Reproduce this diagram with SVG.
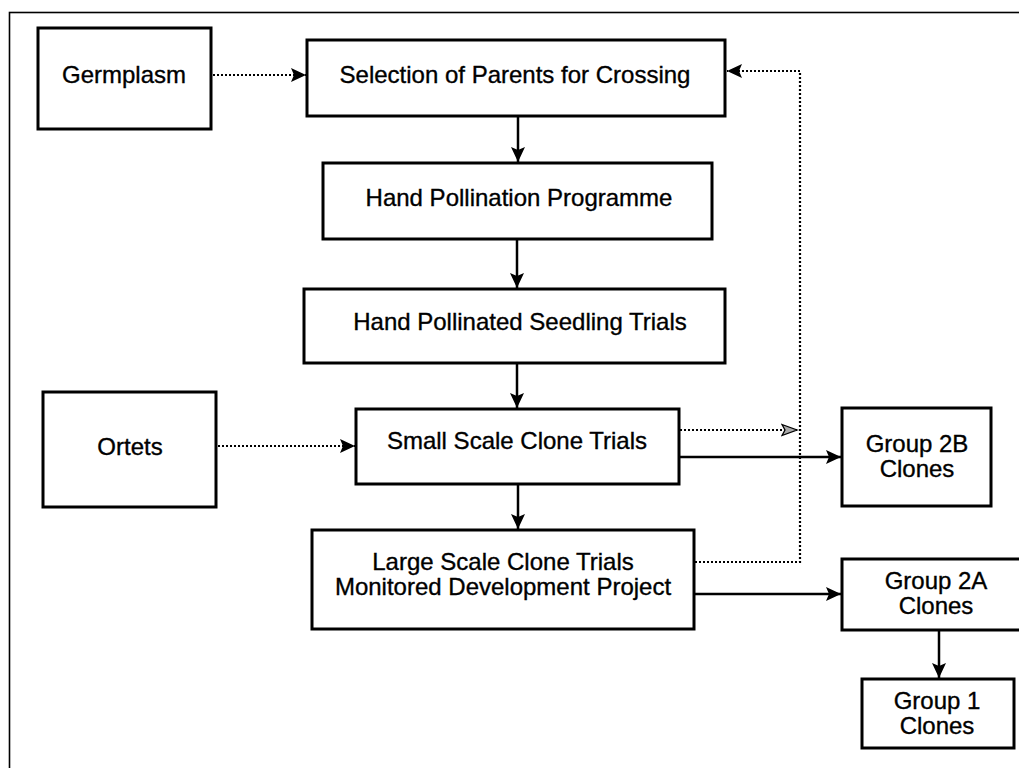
<svg xmlns="http://www.w3.org/2000/svg" width="1019" height="768" viewBox="0 0 1019 768">
<style>
.box{fill:#fff;stroke:#000;stroke-width:3}
.t{font-family:"Liberation Sans",Arial,sans-serif;font-size:24px;fill:#000;stroke:#000;stroke-width:0.35;text-anchor:middle}
.solid{fill:none;stroke:#000;stroke-width:2.5}
.dot{fill:none;stroke:#000;stroke-width:2.2;stroke-dasharray:2 2}
</style>
<defs>
<marker id="ah" markerUnits="userSpaceOnUse" markerWidth="16" markerHeight="14" refX="15" refY="7" orient="auto">
<path d="M0,0 L15,7 L0,14 L3,7 z" fill="#000"/>
</marker>
<marker id="ahOpen" markerUnits="userSpaceOnUse" markerWidth="18" markerHeight="14" refX="16" refY="7" orient="auto">
<path d="M1,1.5 L16,7 L1,12.5 L4,7 z" fill="#aaa" stroke="#000" stroke-width="1.3"/>
</marker>
</defs>
<rect width="1019" height="768" fill="#fff"/>
<rect x="9.5" y="12.5" width="1100" height="1000" fill="none" stroke="#000" stroke-width="1.6"/>
<g id="connectors">
<line class="dot" x1="213" y1="75" x2="306" y2="75" marker-end="url(#ah)"/>
<polyline class="dot" points="695,562 800,562 800,71 727,71" marker-end="url(#ah)"/>
<line class="solid" x1="518" y1="116" x2="518" y2="162" marker-end="url(#ah)"/>
<line class="solid" x1="517" y1="239" x2="517" y2="288" marker-end="url(#ah)"/>
<line class="solid" x1="517" y1="363" x2="517" y2="408" marker-end="url(#ah)"/>
<line class="dot" x1="218" y1="446" x2="355" y2="446" marker-end="url(#ah)"/>
<line class="dot" x1="680" y1="430" x2="797" y2="430" marker-end="url(#ahOpen)"/>
<line class="solid" x1="680" y1="457" x2="841" y2="457" marker-end="url(#ah)"/>
<line class="solid" x1="518" y1="484" x2="518" y2="529" marker-end="url(#ah)"/>
<line class="solid" x1="695" y1="594" x2="841" y2="594" marker-end="url(#ah)"/>
<line class="solid" x1="939" y1="630" x2="939" y2="678" marker-end="url(#ah)"/>
</g>
<g id="germplasm">
<rect class="box" x="38" y="28" width="173" height="101"/>
<text class="t" x="124" y="83">Germplasm</text>
</g>
<g id="selection">
<rect class="box" x="307" y="40" width="418" height="76"/>
<text class="t" x="515" y="83">Selection of Parents for Crossing</text>
</g>
<g id="handpollination">
<rect class="box" x="323" y="163" width="389" height="76"/>
<text class="t" x="519" y="206">Hand Pollination Programme</text>
</g>
<g id="seedling">
<rect class="box" x="304" y="289" width="421" height="74"/>
<text class="t" x="520" y="330">Hand Pollinated Seedling Trials</text>
</g>
<g id="ortets">
<rect class="box" x="43" y="392" width="173" height="115"/>
<text class="t" x="130" y="455">Ortets</text>
</g>
<g id="smallscale">
<rect class="box" x="356" y="409" width="323" height="75"/>
<text class="t" x="517" y="449">Small Scale Clone Trials</text>
</g>
<g id="largescale">
<rect class="box" x="312" y="530" width="382" height="99"/>
<text class="t" x="503" y="570">Large Scale Clone Trials</text>
<text class="t" x="503" y="595">Monitored Development Project</text>
</g>
<g id="group2b">
<rect class="box" x="842" y="408" width="149" height="98"/>
<text class="t" x="917" y="452">Group 2B</text>
<text class="t" x="917" y="477">Clones</text>
</g>
<g id="group2a">
<rect class="box" x="842" y="559" width="194" height="71"/>
<text class="t" x="936" y="589">Group 2A</text>
<text class="t" x="936" y="614">Clones</text>
</g>
<g id="group1">
<rect class="box" x="862" y="679" width="152" height="69"/>
<text class="t" x="937" y="709">Group 1</text>
<text class="t" x="937" y="734">Clones</text>
</g>
</svg>
